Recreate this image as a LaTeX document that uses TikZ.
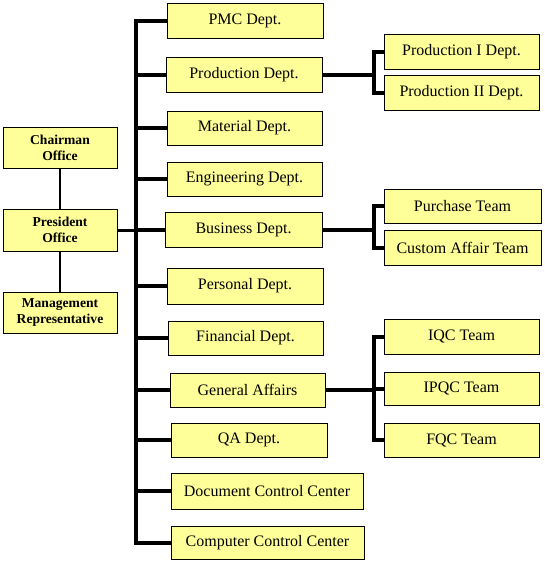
\documentclass[tikz,border=0pt]{standalone}
\usepackage{fontspec}
\setmainfont{Liberation Serif}
\definecolor{boxfill}{RGB}{255,255,153}
\begin{document}
\begin{tikzpicture}[x=1pt,y=-1pt,
  box/.style={draw=black,line width=1pt,fill=boxfill,inner sep=0pt,align=center,
    font=\fontsize{16}{18}\selectfont},
  lbox/.style={box,font=\fontsize{13.6}{16}\selectfont\bfseries},
  busline/.style={line width=4pt,line join=miter,line cap=butt},
  plink/.style={line width=3pt},
  vlink/.style={line width=2pt}]
\useasboundingbox (0,0) rectangle (545,563);
% left column
\node[lbox,minimum width=114pt,minimum height=41pt] (chair) at (60,147.5) {Chairman\\Office};
\node[lbox,minimum width=114pt,minimum height=42pt] (pres) at (60,230) {President\\Office};
\node[lbox,minimum width=114pt,minimum height=41pt] (mgmt) at (60,312.5) {Management\\Representative};
% departments
\node[box,minimum width=156pt,minimum height=35pt] (pmc) at (245,20.5) {PMC Dept.};
\node[box,minimum width=156pt,minimum height=35pt] (prod) at (244,74.5) {Production Dept.};
\node[box,minimum width=155pt,minimum height=34pt] (mat) at (244.5,128) {Material Dept.};
\node[box,minimum width=155pt,minimum height=34pt] (eng) at (244.5,179) {Engineering Dept.};
\node[box,minimum width=157pt,minimum height=35pt] (busd) at (243.5,229.5) {Business Dept.};
\node[box,minimum width=156pt,minimum height=36pt] (pers) at (245,286) {Personal Dept.};
\node[box,minimum width=155pt,minimum height=34pt] (fin) at (245.5,338) {Financial Dept.};
\node[box,minimum width=155pt,minimum height=34pt] (ga) at (247.5,390) {General Affairs};
\node[box,minimum width=156pt,minimum height=34pt] (qa) at (249,440) {QA Dept.};
\node[box,minimum width=192pt,minimum height=36pt] (doc) at (267,491) {Document Control Center};
\node[box,minimum width=193pt,minimum height=33pt] (comp) at (267.5,542.5) {Computer Control Center};
% sub units
\node[box,minimum width=155pt,minimum height=35pt] (p1) at (461.5,51.5) {Production I Dept.};
\node[box,minimum width=155pt,minimum height=35pt] (p2) at (461.5,92.5) {Production II Dept.};
\node[box,minimum width=157pt,minimum height=34pt] (pur) at (462.5,206) {Purchase Team};
\node[box,minimum width=157pt,minimum height=35pt] (cus) at (462.5,247.5) {Custom Affair Team};
\node[box,minimum width=155pt,minimum height=35pt] (iqc) at (461.5,336.5) {IQC Team};
\node[box,minimum width=155pt,minimum height=33pt] (ipqc) at (461.5,388.5) {IPQC Team};
\node[box,minimum width=155pt,minimum height=34pt] (fqc) at (461.5,440) {FQC Team};
% bus coordinates
\coordinate (bt) at (135.5,0);
\coordinate (sb) at (374,0);
% left links
\draw[vlink] (chair.south) -- (pres.north);
\draw[vlink] (pres.south) -- (mgmt.north);
\draw[plink] (pres.east) -- (pres.east -| bt);
% main bus
\draw[busline] (pmc.west) -- (pmc.west -| bt) -- (comp.west -| bt) -- (comp.west);
\foreach \n in {prod,mat,eng,busd,pers,fin,ga,qa,doc}
  \draw[busline] (\n.west) -- (\n.west -| bt);
% production sub-bus
\draw[busline] (prod.east) -- (prod.east -| sb);
\draw[busline] (p1.west) -- (p1.west -| sb) -- (p2.west -| sb) -- (p2.west);
% business sub-bus
\draw[busline] (busd.east) -- (busd.east -| sb);
\draw[busline] (pur.west) -- (pur.west -| sb) -- (cus.west -| sb) -- (cus.west);
% QC sub-bus
\draw[busline] (ga.east) -- (ga.east -| sb);
\draw[busline] (iqc.west) -- (iqc.west -| sb) -- (fqc.west -| sb) -- (fqc.west);
\draw[busline] (ipqc.west) -- (ipqc.west -| sb);
\end{tikzpicture}
\end{document}
